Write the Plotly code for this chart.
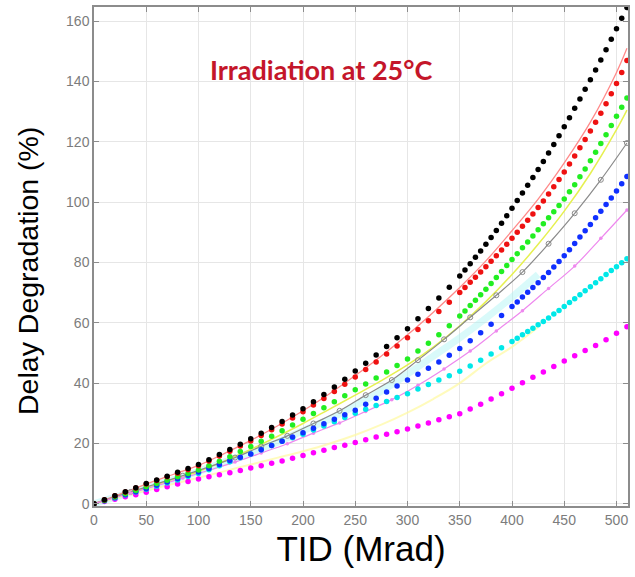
import plotly.graph_objects as go

# Dose grids (Mrad). Readings are taken more often at high dose where the curves are steep.
tid_steep = list(range(0, 350, 10)) + list(range(350, 515, 5))
tid_mid = list(range(0, 400, 10)) + list(range(400, 515, 5))
tid_fine = list(range(0, 520, 10))

black_dots = [0, 1.3, 2.6, 4.0, 5.3, 6.7, 7.9, 9.1, 10.4, 11.7, 13.0, 14.6, 16.3, 18.0, 19.7,
              21.5, 23.4, 25.3, 27.3, 29.4, 31.5, 33.8, 36.2, 38.7, 41.3, 44.0, 46.6, 49.3,
              52.1, 55.0, 58.0, 61.3, 64.7, 68.2, 71.8,
              75.5, 77.5, 79.6, 81.7, 83.8, 86.0, 88.3, 90.6, 93.0, 95.5, 98.0, 100.5, 103.0,
              105.6, 108.2, 110.8, 113.5, 116.3, 119.1, 122.0, 125.0, 128.0, 131.1, 134.2,
              137.4, 140.6, 143.8, 147.1, 150.5, 154.0, 157.5, 161.0, 164.5]
red_dots = [0, 1.3, 2.6, 3.9, 5.2, 6.5, 7.7, 8.9, 10.1, 11.3, 12.6, 14.2, 15.8, 17.4, 19.1,
            20.8, 22.6, 24.5, 26.4, 28.4, 30.5, 32.7, 34.9, 37.2, 39.6, 42.0, 44.5, 47.0,
            49.6, 52.3, 55.0, 57.8, 60.7, 63.7, 66.8,
            70.0, 71.7, 73.4, 75.1, 76.8, 78.6, 80.4, 82.2, 84.1, 86.0, 88.0, 90.0, 92.0,
            94.0, 96.1, 98.2, 100.4, 102.7, 105.1, 107.5, 110.0, 112.6, 115.3, 118.0, 120.8,
            123.6, 126.5, 129.5, 132.6, 135.9, 139.3, 143.0, 147.0]
green_dots = [0, 1.1, 2.2, 3.3, 4.4, 5.6, 6.7, 7.8, 8.9, 10.0, 11.2, 12.6, 14.1, 15.6, 17.3,
              19.0, 20.7, 22.4, 24.2, 26.1, 28.0, 29.9, 31.8, 33.8, 35.8, 37.8, 39.7, 41.7,
              43.7, 45.8, 48.0, 50.6, 53.2, 56.0, 59.0,
              62.2, 63.9, 65.7, 67.5, 69.3, 71.1, 73.0, 75.0, 77.0, 79.0, 81.0, 82.9, 84.9,
              86.8, 88.8, 90.8, 92.8, 94.8, 96.8, 98.9, 101.0, 103.4, 105.8, 108.4, 111.0,
              113.7, 116.5, 119.4, 122.3, 125.4, 128.5, 131.5, 134.5]
blue_dots = [0, 1.0, 2.0, 3.0, 4.0, 5.0, 6.1, 7.2, 8.3, 9.4, 10.5, 11.7, 13.0, 14.3, 15.4,
             16.5, 17.9, 19.3, 20.7, 22.1, 23.5, 25.0, 26.5, 28.0, 29.5, 31.0, 33.0, 35.0,
             37.0, 39.0, 41.0, 42.9, 44.9, 47.0, 49.2, 51.5, 54.0, 56.7, 59.5, 62.4,
             65.4, 66.9, 68.5, 70.1, 71.7, 73.3, 75.0, 76.7, 78.5, 80.3, 82.2, 84.2, 86.3,
             88.4, 90.5, 92.6, 94.8, 97.0, 99.2, 101.4, 103.7, 106.1, 108.5]
cyan_dots = [0, 0.95, 1.9, 2.9, 3.85, 4.8, 5.8, 6.9, 7.9, 9.0, 10.0, 11.3, 12.6, 13.9, 15.2,
             16.5, 17.9, 19.3, 20.7, 21.9, 23.0, 24.4, 25.8, 27.2, 28.6, 30.0, 31.3, 32.6,
             33.9, 35.2, 36.5, 38.0, 39.5, 41.0, 42.4, 43.9, 45.7, 47.6, 49.6, 51.7,
             53.8, 54.9, 56.0, 57.1, 58.2, 59.3, 60.4, 61.6, 62.9, 64.1, 65.4, 66.7, 68.0,
             69.3, 70.6, 71.9, 73.3, 74.6, 76.0, 77.3, 78.6, 79.9, 81.2]
magenta_dots = [0, 0.75, 1.5, 2.3, 3.0, 3.8, 4.7, 5.6, 6.5, 7.4, 8.2, 8.9, 9.6, 10.3, 11.0,
                11.8, 12.6, 13.4, 14.2, 15.1, 16.0, 16.9, 17.7, 18.6, 19.4, 20.3, 21.2, 22.1,
                23.0, 23.9, 24.8, 25.8, 26.8, 27.8, 28.8, 29.8, 31.4, 33.0, 34.7, 36.5, 38.3,
                40.1, 41.9, 43.7, 45.5, 47.3, 49.1, 50.8, 52.5, 54.4, 56.5, 58.7]

# Coarser sampling for the line traces (Mrad)
tid_line = [0, 25, 50, 75, 100, 125, 150, 175, 200, 225, 250, 275, 300, 325, 350, 375,
            400, 425, 450, 475, 500, 510]
salmon_line = [0, 3.2, 6.5, 9.6, 12.7, 16.7, 21.0, 25.7, 30.8, 36.4, 42.5, 49.0, 56.0, 63.6,
               71.7, 80.5, 90.5, 101.0, 113.0, 126.5, 143.0, 151.0]
yellow_line = [0, 2.6, 5.3, 8.0, 10.7, 14.2, 18.0, 22.2, 26.6, 31.3, 36.0, 40.8, 46.0, 52.0,
               59.0, 67.0, 76.0, 86.0, 97.0, 109.5, 124.0, 130.5]

tid_marked = [0, 10, 35, 60, 85, 110, 135, 160, 185, 210, 235, 260, 285, 310, 335, 360, 385,
              410, 435, 460, 485, 510]
gray_line = [0, 1.1, 3.9, 6.6, 9.3, 12.2, 15.3, 19.0, 22.5, 26.6, 30.8, 36.0, 41.0, 47.6,
             54.5, 61.8, 69.1, 76.8, 86.2, 96.3, 107.4, 119.6]
violet_line = [0, 1.0, 3.5, 6.0, 8.5, 11.1, 13.8, 16.8, 19.9, 23.4, 26.8, 30.6, 34.5, 39.3,
               44.7, 50.6, 57.3, 64.0, 71.4, 78.8, 88.0, 97.4]

tid_short = [0, 25, 50, 75, 100, 125, 150, 175, 200, 225, 250, 275, 300, 325, 350, 375,
             400, 425]
aqua_band = [0, 2.7, 5.2, 7.9, 10.7, 13.8, 17.0, 20.3, 24.2, 28.0, 32.5, 37.3, 43.0, 49.0,
             55.0, 61.5, 68.5, 76.0]
pale_yellow = [0, 2.2, 4.4, 6.5, 8.6, 10.8, 13.0, 15.2, 17.4, 19.9, 22.8, 26.2, 30.2, 34.8,
               40.0, 46.5, 52.0, 58.5]

fig = go.Figure()

# Faint wide bands first, so the point series sit on top
fig.add_trace(go.Scatter(x=tid_short, y=aqua_band, mode="lines",
                         line=dict(color="rgba(170,245,245,0.45)", width=7, shape="spline")))
fig.add_trace(go.Scatter(x=tid_short, y=pale_yellow, mode="lines",
                         line=dict(color="rgba(255,250,160,0.7)", width=2, shape="spline")))

# Thin line traces
fig.add_trace(go.Scatter(x=tid_line, y=salmon_line, mode="lines",
                         line=dict(color="#ff8a8a", width=1.3, shape="spline")))
fig.add_trace(go.Scatter(x=tid_line, y=yellow_line, mode="lines",
                         line=dict(color="#e6f050", width=1.5, shape="spline")))
fig.add_trace(go.Scatter(x=tid_marked, y=gray_line, mode="lines+markers",
                         line=dict(color="#8a8a8a", width=1.2, shape="spline"),
                         marker=dict(symbol="circle-open", size=5, color="#8a8a8a",
                                     line=dict(width=1))))
fig.add_trace(go.Scatter(x=tid_marked, y=violet_line, mode="lines+markers",
                         line=dict(color="#ee88ee", width=1.2, shape="spline"),
                         marker=dict(size=3.5, color="#ee88ee")))

# Dotted measurement series
dot_series = [
    (tid_fine, magenta_dots, "#ff00ff"),
    (tid_mid, cyan_dots, "#00e8e8"),
    (tid_mid, blue_dots, "#1030ff"),
    (tid_steep, green_dots, "#22ee22"),
    (tid_steep, red_dots, "#ee1111"),
    (tid_steep, black_dots, "#000000"),
]
for xs, values, color in dot_series:
    fig.add_trace(go.Scatter(x=xs, y=values, mode="markers",
                             marker=dict(size=5.5, color=color)))

fig.add_annotation(x=0.425, y=0.874, xref="paper", yref="paper",
                   xanchor="center", yanchor="middle",
                   text="<b>Irradiation at 25°C</b>", showarrow=False,
                   font=dict(family="Lato", size=27, color="#c4162a"))

# Vertical axis title, placed slightly below the plot-area centre
fig.add_annotation(x=0, y=0.471, xref="paper", yref="paper", xshift=-66,
                   xanchor="center", yanchor="middle", textangle=-90,
                   text="Delay Degradation (%)", showarrow=False,
                   font=dict(family="Liberation Sans", size=28.5, color="#000000"))

axis_common = dict(
    showline=True, linecolor="#8c8c8c", linewidth=1.5, mirror="ticks",
    ticks="inside", ticklen=5, tickcolor="#8c8c8c", tickwidth=1,
    showgrid=True, gridcolor="#e6e6e6", gridwidth=1, zeroline=False,
    tickfont=dict(family="Liberation Sans", size=14, color="#7c7c7c"),
)

fig.update_xaxes(range=[0, 511], tickvals=list(range(0, 550, 50)),
                 title=dict(text="TID (Mrad)", standoff=10,
                            font=dict(family="Liberation Sans", size=35, color="#000000")),
                 **axis_common)
fig.update_yaxes(range=[-0.76, 164.7], tickvals=list(range(0, 180, 20)), **axis_common)

fig.update_layout(
    width=635, height=577,
    margin=dict(l=94, r=5, t=5, b=71),
    paper_bgcolor="white", plot_bgcolor="white",
    showlegend=False,
)

fig.write_html("out.html")
